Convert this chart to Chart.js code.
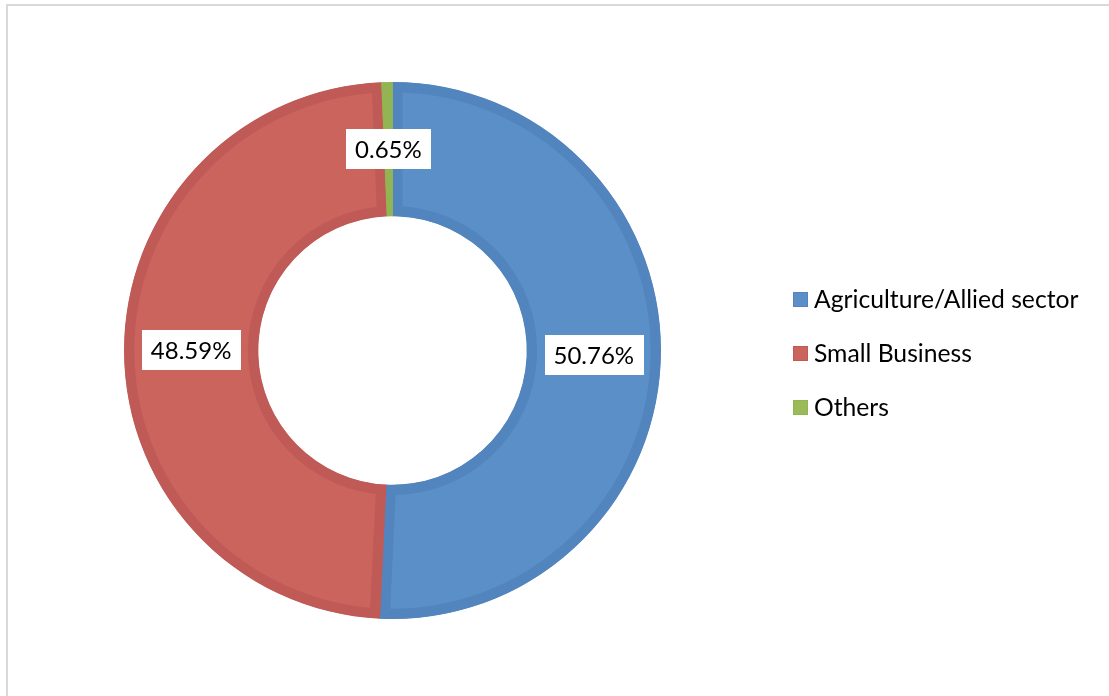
<!DOCTYPE html>
<html>
<head>
<meta charset="utf-8">
<script src="https://cdn.jsdelivr.net/npm/chart.js@4.4.1/dist/chart.umd.min.js"></script>
<style>
  html, body { margin: 0; padding: 0; background: #ffffff; }
  #wrap { position: absolute; left: 0; top: 0; width: 1109px; height: 696px; }
</style>
</head>
<body>
<div id="wrap"><canvas id="c" width="1109" height="696"></canvas></div>
<script>
const categories = ['Agriculture/Allied sector', 'Small Business', 'Others'];
const shares = [50.76, 48.59, 0.65];
const valueLabels = ['50.76%', '48.59%', '0.65%'];
const fillColors = ['#5b8fc7', '#cb645c', '#9bbb59'];
const borderColors = ['#5284bd', '#bf5a56', '#93b453'];

const FONT = 'Lato, "Open Sans", sans-serif';

const framePlugin = {
  id: 'frame',
  beforeDraw(chart) {
    const ctx = chart.ctx;
    ctx.save();
    ctx.fillStyle = '#ffffff';
    ctx.fillRect(0, 0, chart.width, chart.height);
    ctx.strokeStyle = '#d9d9d9';
    ctx.lineWidth = 2;
    ctx.strokeRect(7, 5, chart.width + 20, chart.height + 20);
    ctx.restore();
  }
};

const labelPlugin = {
  id: 'boxLabels',
  afterDatasetsDraw(chart) {
    const ctx = chart.ctx;
    const meta = chart.getDatasetMeta(0);
    ctx.save();
    ctx.font = '24px ' + FONT;
    ctx.textAlign = 'center';
    ctx.textBaseline = 'middle';
    meta.data.forEach((arc, i) => {
      const p = arc.tooltipPosition();
      const txt = valueLabels[i];
      const w = ctx.measureText(txt).width + 18;
      const h = 40;
      ctx.fillStyle = '#ffffff';
      ctx.fillRect(Math.round(p.x - w / 2), Math.round(p.y - h / 2), Math.round(w), h);
      ctx.fillStyle = '#000000';
      ctx.fillText(txt, p.x, p.y + 1);
    });
    ctx.restore();
  }
};

const legendPlugin = {
  id: 'sideLegend',
  afterDraw(chart) {
    const ctx = chart.ctx;
    const x0 = 793, y0 = 299, step = 54, box = 15;
    ctx.save();
    ctx.font = '24.7px ' + FONT;
    ctx.textAlign = 'left';
    ctx.textBaseline = 'middle';
    chart.data.labels.forEach((lab, i) => {
      const y = y0 + i * step;
      ctx.fillStyle = fillColors[i];
      ctx.fillRect(x0, Math.round(y - box / 2), box, box);
      ctx.strokeStyle = borderColors[i];
      ctx.lineWidth = 1;
      ctx.strokeRect(x0 + 0.5, Math.round(y - box / 2) + 0.5, box - 1, box - 1);
      ctx.fillStyle = '#000000';
      ctx.fillText(lab, x0 + box + 6, y + 1);
    });
    ctx.restore();
  }
};

new Chart(document.getElementById('c'), {
  type: 'doughnut',
  data: {
    labels: categories,
    datasets: [{
      data: shares,
      backgroundColor: fillColors,
      borderColor: borderColors,
      borderWidth: 10,
      hoverBorderWidth: 10,
      borderAlign: 'inner',
      hoverOffset: 0,
      offset: 0
    }]
  },
  options: {
    responsive: false,
    animation: false,
    cutout: '50%',
    rotation: 0,
    layout: { padding: { left: 124, top: 82, right: 448, bottom: 77 } },
    plugins: {
      legend: { display: false },
      tooltip: { enabled: false }
    },
    events: []
  },
  plugins: [framePlugin, labelPlugin, legendPlugin]
});
</script>
</body>
</html>
